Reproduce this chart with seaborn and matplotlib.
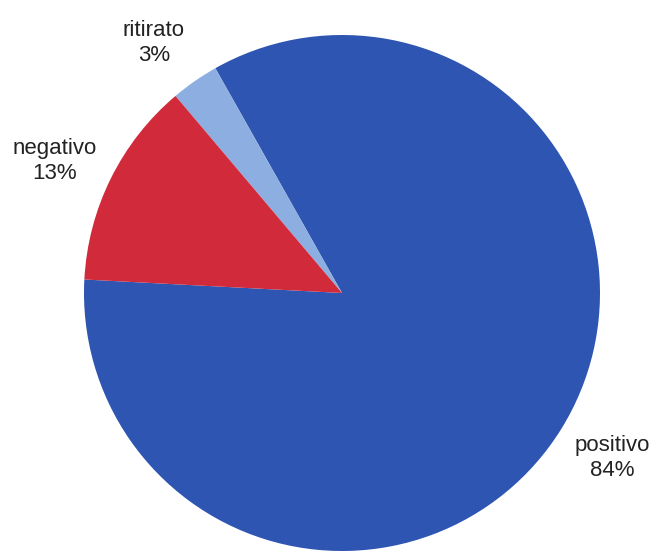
import matplotlib
matplotlib.use('Agg')
import matplotlib.pyplot as plt
import seaborn as sns

# dati (percentuali)
etichette = ['positivo', 'ritirato', 'negativo']
valori = [84, 3, 13]

blu = "#2E55B2"
azzurro = "#8DAEE0"
rosso = "#D02A3B"
colori = sns.color_palette([blu, azzurro, rosso])

sns.set_theme(style='white')
plt.rcParams['font.family'] = ['Liberation Sans', 'DejaVu Sans']

W, H = 658, 552
fig = plt.figure(figsize=(W / 100, H / 100), dpi=100)
fig.patch.set_facecolor('white')

# centro e raggio della torta in pixel
cx, cy, r = 342, 293, 258
ax = fig.add_axes([(cx - r) / W, (H - cy - r) / H, 2 * r / W, 2 * r / H])
ax.pie(valori, colors=colori, startangle=177, counterclock=True, radius=1,
       wedgeprops=dict(linewidth=0))
ax.set_xlim(-1, 1)
ax.set_ylim(-1, 1)
ax.set_aspect('equal')
ax.axis('off')

# posizioni delle etichette (pixel del riferimento)
pos_etichette = {'positivo': (612, 458), 'ritirato': (154, 43), 'negativo': (55, 161)}
for nome, val in zip(etichette, valori):
    x, y = pos_etichette[nome]
    fig.text(x / W, 1 - y / H, f'{nome}\n{val}%', ha='center', va='center',
             fontsize=16, color='#222222', linespacing=1.25)

fig.savefig('out.png', dpi=100)
